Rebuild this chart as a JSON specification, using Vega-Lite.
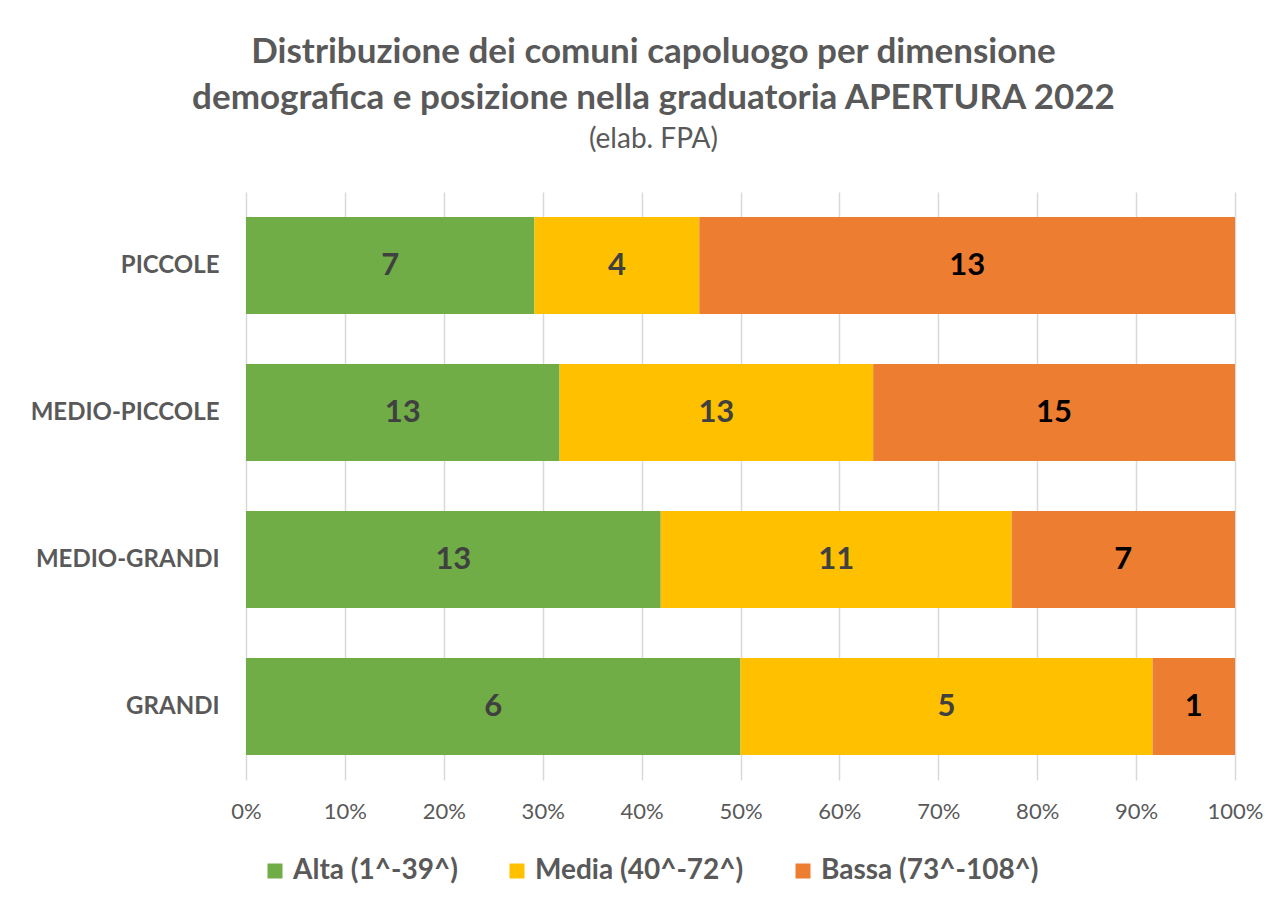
{
  "$schema": "https://vega.github.io/schema/vega-lite/v6.json",
  "width": 989,
  "height": 588,
  "autosize": {"type": "none"},
  "padding": {"left": 246, "top": 192, "right": 36, "bottom": 126},
  "background": "white",
  "title": {
    "text": ["Distribuzione dei comuni capoluogo per dimensione", "demografica e posizione nella graduatoria APERTURA 2022"],
    "subtitle": "(elab. FPA)",
    "font": "Lato",
    "fontSize": 35,
    "fontWeight": "bold",
    "color": "#595959",
    "lineHeight": 46,
    "subtitleFont": "Lato",
    "subtitleFontSize": 28,
    "subtitleColor": "#595959",
    "subtitlePadding": 10,
    "anchor": "middle",
    "dx": -87,
    "offset": 38
  },
  "data": {
    "values": [
      {"dim": "PICCOLE", "cat": "Alta (1^-39^)", "ord": 1, "value": 7},
      {"dim": "PICCOLE", "cat": "Media (40^-72^)", "ord": 2, "value": 4},
      {"dim": "PICCOLE", "cat": "Bassa (73^-108^)", "ord": 3, "value": 13},
      {"dim": "MEDIO-PICCOLE", "cat": "Alta (1^-39^)", "ord": 1, "value": 13},
      {"dim": "MEDIO-PICCOLE", "cat": "Media (40^-72^)", "ord": 2, "value": 13},
      {"dim": "MEDIO-PICCOLE", "cat": "Bassa (73^-108^)", "ord": 3, "value": 15},
      {"dim": "MEDIO-GRANDI", "cat": "Alta (1^-39^)", "ord": 1, "value": 13},
      {"dim": "MEDIO-GRANDI", "cat": "Media (40^-72^)", "ord": 2, "value": 11},
      {"dim": "MEDIO-GRANDI", "cat": "Bassa (73^-108^)", "ord": 3, "value": 7},
      {"dim": "GRANDI", "cat": "Alta (1^-39^)", "ord": 1, "value": 6},
      {"dim": "GRANDI", "cat": "Media (40^-72^)", "ord": 2, "value": 5},
      {"dim": "GRANDI", "cat": "Bassa (73^-108^)", "ord": 3, "value": 1}
    ]
  },
  "transform": [
    {"stack": "value", "groupby": ["dim"], "sort": [{"field": "ord", "order": "ascending"}], "offset": "normalize", "as": ["x0", "x1"]},
    {"calculate": "(datum.x0 + datum.x1) / 2", "as": "xm"}
  ],
  "encoding": {
    "y": {
      "field": "dim",
      "type": "nominal",
      "sort": ["PICCOLE", "MEDIO-PICCOLE", "MEDIO-GRANDI", "GRANDI"],
      "scale": {"paddingInner": 0.34, "paddingOuter": 0.17},
      "axis": {
        "title": null,
        "ticks": false,
        "domain": false,
        "labelFont": "Lato",
        "labelFontSize": 24,
        "labelFontWeight": "bold",
        "labelColor": "#595959",
        "labelPadding": 27,
        "labelLimit": 300
      }
    }
  },
  "layer": [
    {
      "mark": {"type": "bar"},
      "encoding": {
        "x": {
          "field": "x0",
          "type": "quantitative",
          "scale": {"domain": [0, 1], "nice": false},
          "axis": {
            "title": null,
            "values": [0, 0.1, 0.2, 0.3, 0.4, 0.5, 0.6, 0.7, 0.8, 0.9, 1],
            "format": ".0%",
            "grid": true,
            "gridColor": "#D9D9D9",
            "gridWidth": 1.5,
            "domain": false,
            "ticks": false,
            "labelFlush": false,
            "labelFont": "Lato",
            "labelFontSize": 22,
            "labelColor": "#595959",
            "labelPadding": 21
          }
        },
        "x2": {"field": "x1"},
        "color": {
          "field": "cat",
          "type": "nominal",
          "scale": {
            "domain": ["Alta (1^-39^)", "Media (40^-72^)", "Bassa (73^-108^)"],
            "range": ["#70AD47", "#FFC000", "#ED7D31"]
          },
          "legend": {
            "title": null,
            "orient": "none",
            "legendX": 15,
            "legendY": 665,
            "direction": "horizontal",
            "symbolType": "square",
            "symbolSize": 225,
            "symbolStrokeWidth": 0,
            "labelFont": "Lato",
            "labelFontSize": 28,
            "labelFontWeight": "bold",
            "labelColor": "#595959",
            "labelOffset": 4,
            "columnPadding": 45,
            "labelLimit": 400
          }
        }
      }
    },
    {
      "mark": {"type": "text", "font": "Lato", "fontWeight": "bold", "fontSize": 31, "baseline": "middle", "align": "center"},
      "encoding": {
        "x": {"field": "xm", "type": "quantitative"},
        "text": {"field": "value", "type": "quantitative"},
        "color": {"condition": {"test": "datum.ord == 3", "value": "#000000"}, "value": "#404040"}
      }
    }
  ],
  "config": {"view": {"stroke": null}}
}
